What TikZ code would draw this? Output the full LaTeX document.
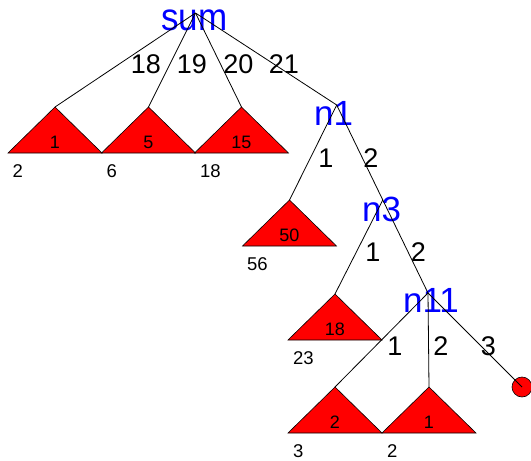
\documentclass[tikz,border=0pt]{standalone}
\usepackage{fontspec}
\setmainfont{Liberation Sans}
\begin{document}
\begin{tikzpicture}[x=1pt,y=-1pt,
  nlbl/.style={anchor=base,inner sep=0,text=blue,font=\fontsize{35}{35}\selectfont},
  elbl/.style={anchor=base,inner sep=0,font=\fontsize{27}{27}\selectfont},
  vlbl/.style={anchor=base,inner sep=0,font=\fontsize{18}{18}\selectfont},
  clbl/.style={anchor=base west,inner sep=0,font=\fontsize{18.5}{18.5}\selectfont},
  edge/.style={draw=black,line width=0.8pt},
  tri/.style={fill=red,draw=black,line width=0.6pt}]
\useasboundingbox (0,0) rectangle (531,461);
% inner node labels
\node[nlbl] (sumlbl) at (194.5,30) {\scalebox{1}[1.1]{sum}};
\node[nlbl] (n1lbl) at (333.7,125) {n1};
\node[nlbl] (n3lbl) at (381.7,221) {n3};
\node[nlbl] (n11lbl) at (431,312) {n11};
% apex coordinates
\coordinate (sum) at (195.5,13);
\coordinate (n1) at (336.7,105);
\coordinate (n3) at (382.8,200);
\coordinate (n11) at (428,293);
\coordinate (t1) at (55,107);
\coordinate (t5) at (148.5,107);
\coordinate (t15) at (241.5,107);
\coordinate (t50) at (289.5,200);
\coordinate (t18) at (335,294);
\coordinate (t2) at (335,387);
\coordinate (t1b) at (429,387);
% triangles
\foreach \t in {t1,t5,t15,t50,t18,t2,t1b}
  \draw[tri] (\t) -- ++(-47,46) -- ++(94,0) -- cycle;
% triangle values
\node[vlbl] (t1v) at (55,148) {1};
\node[vlbl] (t5v) at (148.5,148) {5};
\node[vlbl] (t15v) at (241.5,148) {15};
\node[vlbl] (t50v) at (289.5,241) {50};
\node[vlbl] (t18v) at (335,335) {18};
\node[vlbl] (t2v) at (335,428) {2};
\node[vlbl] (t1bv) at (429,428) {1};
% triangle counts
\node[clbl] (t1c) at (12.5,177) {2};
\node[clbl] (t5c) at (106.5,177) {6};
\node[clbl] (t15c) at (200,177) {18};
\node[clbl] (t50c) at (247,270) {56};
\node[clbl] (t18c) at (293,364) {23};
\node[clbl] (t2c) at (293,457) {3};
\node[clbl] (t1bc) at (387,457) {2};
% edges
\draw[edge] (sum) -- (t1);
\draw[edge] (sum) -- (t5);
\draw[edge] (sum) -- (t15);
\draw[edge] (sum) -- (n1);
\draw[edge] (n1) -- (t50);
\draw[edge] (n1) -- (n3);
\draw[edge] (n3) -- (t18);
\draw[edge] (n3) -- (n11);
\draw[edge] (n11) -- (t2);
\draw[edge] (n11) -- (t1b);
\node[circle,fill=red,draw=black,line width=0.6pt,minimum size=20pt,inner sep=0] (leaf) at (522,387) {};
\draw[edge] (n11) -- (leaf.center);
% edge labels
\node[elbl] (e18) at (146,73) {18};
\node[elbl] (e19) at (192,73) {19};
\node[elbl] (e20) at (238.5,73) {20};
\node[elbl] (e21) at (284,73) {21};
\node[elbl] (e1a) at (326,167) {1};
\node[elbl] (e2a) at (371,167) {2};
\node[elbl] (e1b) at (373,261) {1};
\node[elbl] (e2b) at (418.5,261) {2};
\node[elbl] (e1c) at (395,355) {1};
\node[elbl] (e2c) at (441,355) {2};
\node[elbl] (e3c) at (488.5,355) {3};
\end{tikzpicture}
\end{document}
